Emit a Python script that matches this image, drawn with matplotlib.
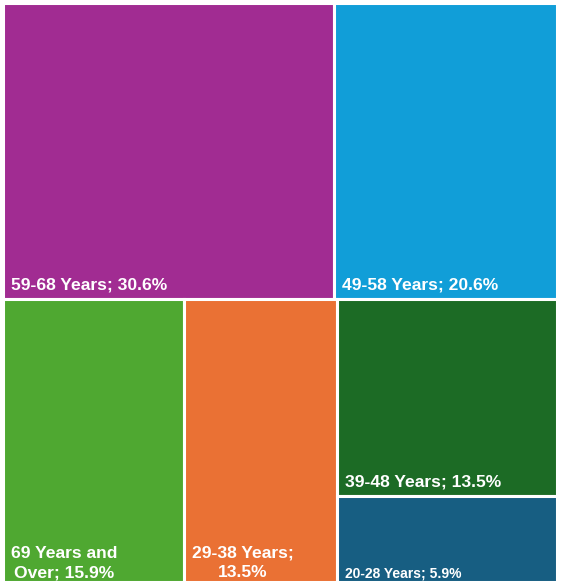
import textwrap
import matplotlib
matplotlib.use('Agg')
import matplotlib.pyplot as plt
from matplotlib.patches import Rectangle

categories = ['59-68 Years', '49-58 Years', '69 Years and Over', '29-38 Years', '39-48 Years', '20-28 Years']
shares = [30.6, 20.6, 15.9, 13.5, 13.5, 5.9]
colors = ['#A12C92', '#119ED8', '#4FA831', '#EA7134', '#1C6B25', '#175E82']
# treemap structure: rows -> columns -> stacked items (indices into the lists above)
rows = [[[0], [1]], [[2], [3], [4, 5]]]

plt.rcParams['font.family'] = ['Liberation Sans', 'DejaVu Sans']

fig = plt.figure(figsize=(5.61, 5.82), dpi=100)
ax = fig.add_axes([3/561, 0, 554/561, 579/582])
ax.set_xlim(0, 1)
ax.set_ylim(1, 0)
ax.axis('off')

total = sum(shares)
cells = []
y = 0
for row in rows:
    row_sum = sum(shares[i] for col in row for i in col)
    h = row_sum / total
    x = 0
    for col in row:
        col_sum = sum(shares[i] for i in col)
        w = col_sum / row_sum
        yy = y
        for i in col:
            hh = h * shares[i] / col_sum
            ax.add_patch(Rectangle((x, yy), w, hh, facecolor=colors[i],
                                   edgecolor='white', lw=2.2))
            cells.append((i, x, yy, w, hh))
            yy += hh
        x += w
    y += h

fig.canvas.draw()
renderer = fig.canvas.get_renderer()
ax_w = ax.get_window_extent().width
ax_h = ax.get_window_extent().height

for i, x, y0, w, hh in cells:
    label = '{}; {}%'.format(categories[i], shares[i])
    size = 12.6 if hh * ax_h > 100 else 10
    dy = 7
    if y0 + hh > 0.999:
        dy = 2
    t = ax.annotate(label, (x, y0 + hh), xytext=(8, dy), textcoords='offset pixels',
                    ha='left', va='bottom', multialignment='center', linespacing=1.35,
                    color='white', fontsize=size, fontweight='bold',
                    annotation_clip=False)
    if t.get_window_extent(renderer).width > w * ax_w - 14:
        t.set_text(textwrap.fill(label, width=12))

fig.savefig('out.png', dpi=100)
